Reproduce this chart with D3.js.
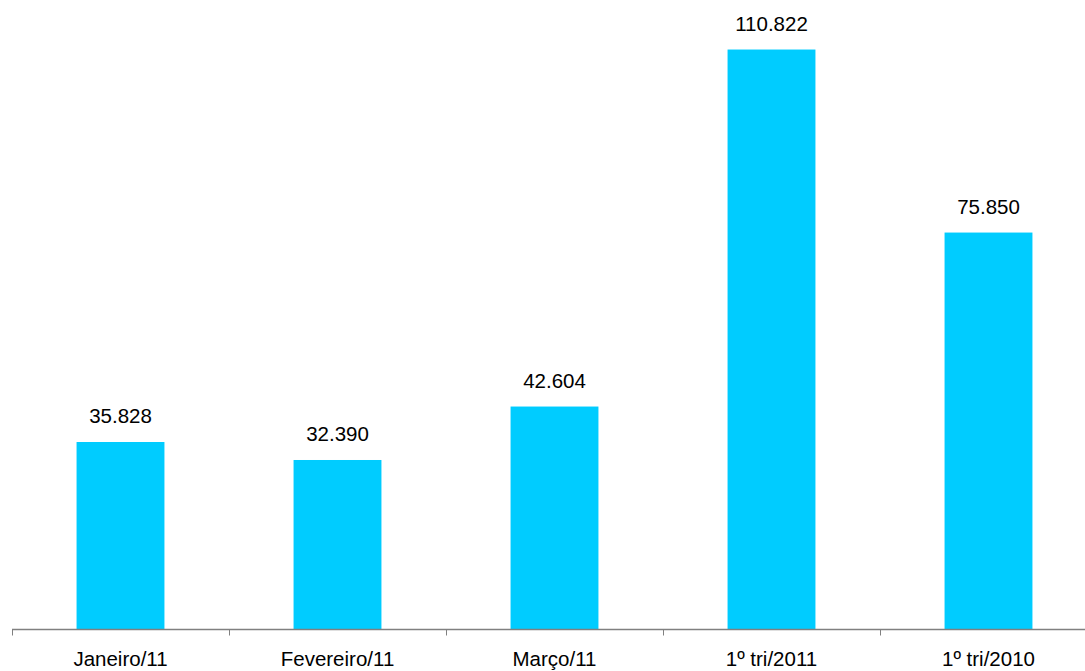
<!DOCTYPE html>
<html lang="pt">
<head>
  <meta charset="UTF-8" />
  <title>Bar chart</title>
  <script src="https://d3js.org/d3.v7.min.js"></script>
  <style>
    body { margin: 0; background: #fff; }
    text { font-family: "Liberation Sans", Arial, sans-serif; fill: #000; }
  </style>
</head>
<body>
  <svg id="chart" width="1085" height="671"></svg>
  <script>
  const categories = ["Janeiro/11", "Fevereiro/11", "Março/11", "1º tri/2011", "1º tri/2010"];
  const values = [35828, 32390, 42604, 110822, 75850];
  const valueLabels = ["35.828", "32.390", "42.604", "110.822", "75.850"];

  const svg = d3.select("#chart"),
        baseY = 629.5,
        x = d3.scaleBand().domain(categories).range([12, 1097]).paddingInner(0.595).paddingOuter(0.2975),
        y = d3.scaleLinear().domain([0, 120000]).range([baseY, 1.5]);

  const data = categories.map((c, i) => ({ cat: c, v: values[i], lab: valueLabels[i] }));

  svg.selectAll("rect.bar").data(data).join("rect")
    .attr("class", "bar")
    .attr("x", d => x(d.cat))
    .attr("width", x.bandwidth())
    .attr("y", d => y(d.v))
    .attr("height", d => baseY - y(d.v))
    .attr("fill", "#00ccff");

  svg.selectAll("text.val").data(data).join("text")
    .attr("class", "val")
    .attr("x", d => x(d.cat) + x.bandwidth() / 2)
    .attr("y", d => y(d.v) - 19)
    .attr("text-anchor", "middle")
    .style("font-size", "20.5px")
    .text(d => d.lab);

  // category axis
  const axis = svg.append("g");
  axis.append("line")
    .attr("x1", 12).attr("x2", 1085)
    .attr("y1", baseY).attr("y2", baseY)
    .attr("stroke", "#808080").attr("stroke-width", 1.5);
  const step = x.step();
  axis.selectAll("line.tick").data(d3.range(categories.length)).join("line")
    .attr("class", "tick")
    .attr("x1", i => 12.5 + i * step).attr("x2", i => 12.5 + i * step)
    .attr("y1", baseY).attr("y2", baseY + 6)
    .attr("stroke", "#808080").attr("stroke-width", 1);
  axis.selectAll("text.cat").data(categories).join("text")
    .attr("class", "cat")
    .attr("x", d => x(d) + x.bandwidth() / 2)
    .attr("y", 666)
    .attr("text-anchor", "middle")
    .style("font-size", "20.5px")
    .text(d => d);
  </script>
</body>
</html>
